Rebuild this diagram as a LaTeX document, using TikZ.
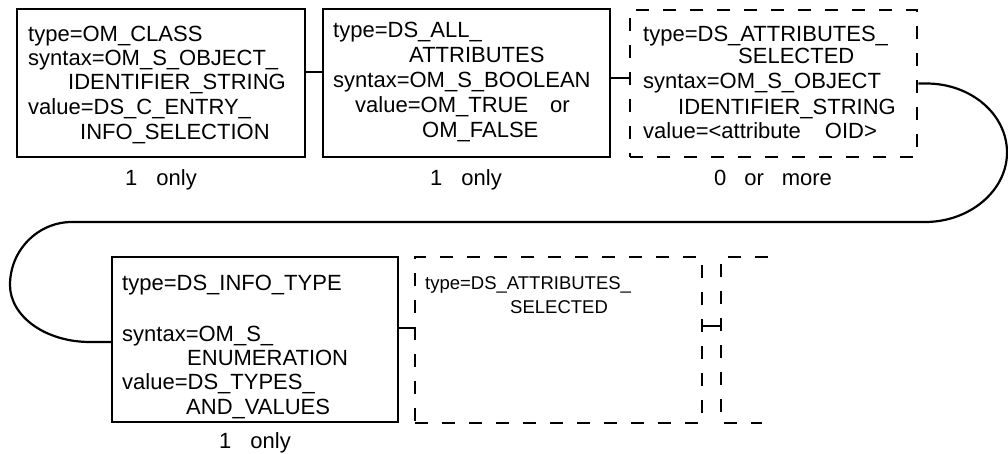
\documentclass[tikz,border=0pt]{standalone}
\usepackage{fontspec}
\setmainfont{Liberation Sans}
\begin{document}
\begin{tikzpicture}[x=1pt,y=-1pt,
  box/.style={draw,line width=2.5pt,rectangle,inner sep=0pt},
  dbox/.style={box,dash pattern=on 13pt off 14pt},
  dline/.style={line width=2.5pt,dash pattern=on 13pt off 14pt},
  txt/.style={anchor=base west,inner sep=0pt,font=\fontsize{22}{24}\selectfont},
  stxt/.style={anchor=base west,inner sep=0pt,font=\fontsize{18.5}{22}\selectfont},
  lbl/.style={anchor=base,inner sep=0pt,font=\fontsize{22}{24}\selectfont},
  wire/.style={line width=2.2pt}]
\useasboundingbox (0,0) rectangle (1008,454);
% boxes
\node[box,minimum width=288pt,minimum height=148pt] (b1) at (161,83) {};
\node[box,minimum width=287pt,minimum height=148pt] (b2) at (466.5,83) {};
\node[dbox,minimum width=287pt,minimum height=147pt] (b3) at (773.5,83.5) {};
\node[box,minimum width=286pt,minimum height=165pt] (b4) at (255,339.5) {};
\node[dbox,minimum width=287pt,minimum height=166pt] (b5) at (558.5,340) {};
\draw[dline] (768,257) -- (721,257) -- (721,423) -- (762,423);
\coordinate (b6) at (721,326);
% box 1 text
\node[txt] (t1a) at (28,42) {type=OM\_CLASS};
\node[txt] (t1b) at (28,66) {syntax=OM\_S\_OBJECT\_};
\node[txt] (t1c) at (68,90) {IDENTIFIER\_STRING};
\node[txt] (t1d) at (28,115) {value=DS\_C\_ENTRY\_};
\node[txt] (t1e) at (80,140) {INFO\_SELECTION};
\node[lbl] (l1) at (161,186) {1\hspace{19pt}only};
% box 2 text
\node[txt] (t2a) at (333,38) {type=DS\_ALL\_};
\node[txt] (t2b) at (409,63) {ATTRIBUTES};
\node[txt] (t2c) at (333,88) {syntax=OM\_S\_BOOLEAN};
\node[txt] (t2d) at (355,113) {value=OM\_TRUE\hspace{22pt}or};
\node[txt] (t2e) at (422,138) {OM\_FALSE};
\node[lbl] (l2) at (466,186) {1\hspace{19pt}only};
% box 3 text
\node[txt] (t3a) at (643,42) {type=DS\_ATTRIBUTES\_};
\node[txt] (t3b) at (738,64) {SELECTED};
\node[txt] (t3c) at (643,89) {syntax=OM\_S\_OBJECT};
\node[txt] (t3d) at (678,115) {IDENTIFIER\_STRING};
\node[txt] (t3e) at (643,139) {value=<attribute\hspace{24pt}OID>};
\node[lbl] (l3) at (773,186) {0\hspace{18pt}or\hspace{18pt}more};
% box 4 text
\node[txt] (t4a) at (122,290) {type=DS\_INFO\_TYPE};
\node[txt] (t4b) at (122,341) {syntax=OM\_S\_};
\node[txt] (t4c) at (187,365) {ENUMERATION};
\node[txt] (t4d) at (122,389) {value=DS\_TYPES\_};
\node[txt] (t4e) at (186,414) {AND\_VALUES};
\node[lbl] (l4) at (255,448) {1\hspace{19pt}only};
% box 5 text
\node[stxt] (t5a) at (425,289) {type=DS\_ATTRIBUTES\_};
\node[stxt] (t5b) at (510,313) {SELECTED};
% connectors
\coordinate (c12) at ([yshift=11pt]b1.east);
\draw[wire] (c12) -- (c12 -| b2.west);
\coordinate (c23) at ([yshift=5pt]b2.east);
\draw[wire] (c23) -- (c23 -| b3.west);
\coordinate (c4in) at ([yshift=-2.5pt]b4.west);
\draw[wire] (b3.east) -- ++(8,0)
  .. controls +(45,0) and +(0,-38) .. (1007,152.5)
  .. controls +(0,38) and +(45,0) .. (925,222)
  -- (72,222)
  .. controls +(-34,0) and +(0,-35) .. (10,285)
  .. controls +(0,31) and +(-45,0) .. (90,342)
  -- (c4in);
\coordinate (c45) at ([yshift=11.5pt]b4.east);
\draw[wire] (c45) -- (c45 -| b5.west);
\coordinate (c56) at ([yshift=14pt]b5.east);
\draw[wire] (c56) -- (b6);
\end{tikzpicture}
\end{document}
